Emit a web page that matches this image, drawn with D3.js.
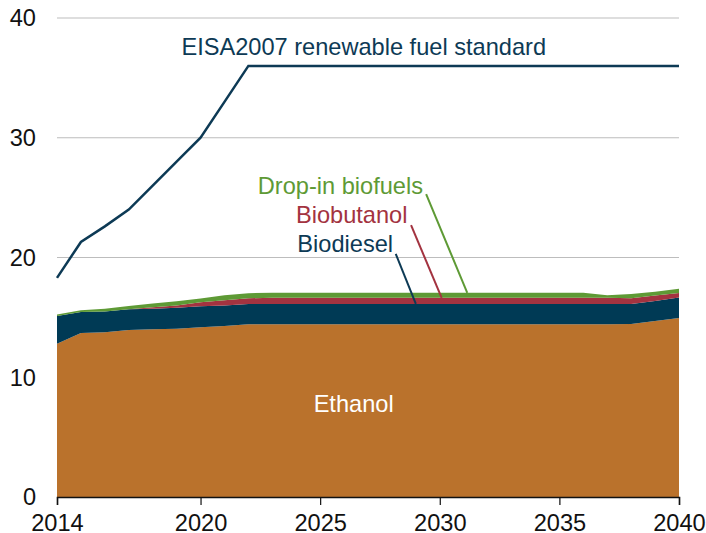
<!DOCTYPE html>
<html>
<head>
<meta charset="utf-8">
<script src="https://cdn.jsdelivr.net/npm/d3@7"></script>
<style>
html,body{margin:0;padding:0;background:#fff;}
svg{display:block;font-family:"Liberation Sans",Arial,sans-serif;}
</style>
</head>
<body>
<svg id="chart" width="706" height="533"></svg>
<script>
const years = d3.range(2014, 2041);
const rep = (v, n) => Array(n).fill(v);
const ethanol = [12.8,13.7,13.75,13.95,14.0,14.06,14.17,14.28,14.42, ...rep(14.42,15), 14.45,14.7,14.95];
const biodiesel = [2.32,1.75,1.75,1.73,1.72,1.74,1.76,1.72,1.70, ...rep(1.70,15), 1.67,1.67,1.70];
const biobutanol = [0,0,0,0,0.13,0.2,0.33,0.43,0.48, ...rep(0.51,15), 0.48,0.45,0.39];
const dropin = [0.11,0.15,0.22,0.27,0.3,0.35,0.31,0.42,0.42, ...rep(0.42,14), 0.22,0.35,0.33,0.36];
const eisa = [18.3,21.3,22.6,24,26,28,30,33,36, ...rep(36,18)];
const seriesKeys = ["Ethanol","Biodiesel","Biobutanol","Drop-in biofuels"];
const seriesColors = ["#BA722C","#003A55","#A33340","#5E9A35"];
const xTicks = [2014,2020,2025,2030,2035,2040];
const yTicks = [0,10,20,30,40];

const rows = years.map((y,i)=>({year:y,"Ethanol":ethanol[i],"Biodiesel":biodiesel[i],"Biobutanol":biobutanol[i],"Drop-in biofuels":dropin[i]}));

const FS = 23.6;
const svg = d3.select("#chart");
const x = d3.scaleLinear().domain([2014,2040]).range([57,679]);
const y = d3.scaleLinear().domain([0,40]).range([497,18]);

// gridlines
svg.append("g").selectAll("line").data(yTicks.filter(d=>d>0)).join("line")
  .attr("x1",x(2014)).attr("x2",x(2040))
  .attr("y1",d=>y(d)).attr("y2",d=>y(d))
  .attr("stroke","#BDBDBD").attr("stroke-width",1.2);

// stacked areas
const stack = d3.stack().keys(seriesKeys);
const layers = stack(rows);
const area = d3.area().x(d=>x(d.data.year)).y0(d=>y(d[0])).y1(d=>y(d[1]));
svg.append("g").selectAll("path").data(layers).join("path")
  .attr("d",area).attr("fill",(d,i)=>seriesColors[i]);

// EISA line
const line = d3.line().x((d,i)=>x(years[i])).y(d=>y(d));
svg.append("path").attr("d",line(eisa)).attr("fill","none")
  .attr("stroke","#0D3A55").attr("stroke-width",2.5).attr("stroke-linejoin","miter");

// y tick labels
svg.append("g").selectAll("text").data(yTicks).join("text")
  .attr("x",36).attr("y",d=>y(d)).attr("dy","0.36em")
  .attr("text-anchor","end").attr("font-size",FS).attr("fill","#111")
  .text(d=>d);

// x axis
const xAxis = d3.axisBottom(x).tickValues(xTicks).tickFormat(d3.format("d")).tickSize(8).tickPadding(9);
const gx = svg.append("g").attr("transform",`translate(0,${y(0)})`).call(xAxis);
gx.select(".domain").attr("stroke","#111").attr("stroke-width",1.5);
gx.selectAll(".tick line").attr("stroke","#111").attr("stroke-width",1.2);
gx.selectAll(".tick text").attr("font-size",FS).attr("fill","#111")
  .attr("font-family","Liberation Sans, Arial, sans-serif");

// annotations
const labels = [
  {text:"EISA2007 renewable fuel standard", yr:2019.2, v:36.9, anchor:"start", color:"#0D3A55"},
  {text:"Ethanol", yr:2026.4, v:7.1, anchor:"middle", color:"#ffffff"},
  {text:"Drop-in biofuels", yr:2029.3, v:25.3, anchor:"end", color:"#5E9A35"},
  {text:"Biobutanol", yr:2028.65, v:22.9, anchor:"end", color:"#A33340"},
  {text:"Biodiesel", yr:2028.05, v:20.45, anchor:"end", color:"#0D3A55"}
];
svg.append("g").selectAll("text").data(labels).join("text")
  .attr("x",d=>x(d.yr)).attr("y",d=>y(d.v))
  .attr("text-anchor",d=>d.anchor).attr("font-size",FS).attr("fill",d=>d.color)
  .text(d=>d.text);

const leaders = [
  {x1:2029.43,v1:25.3,x2:2031.15,v2:17.04,color:"#5E9A35"},
  {x1:2028.8,v1:22.7,x2:2030.08,v2:16.63,color:"#A33340"},
  {x1:2028.16,v1:20.3,x2:2029.0,v2:16.12,color:"#0D3A55"}
];
svg.append("g").selectAll("line").data(leaders).join("line")
  .attr("x1",d=>x(d.x1)).attr("y1",d=>y(d.v1))
  .attr("x2",d=>x(d.x2)).attr("y2",d=>y(d.v2))
  .attr("stroke",d=>d.color).attr("stroke-width",2);
</script>
</body>
</html>
